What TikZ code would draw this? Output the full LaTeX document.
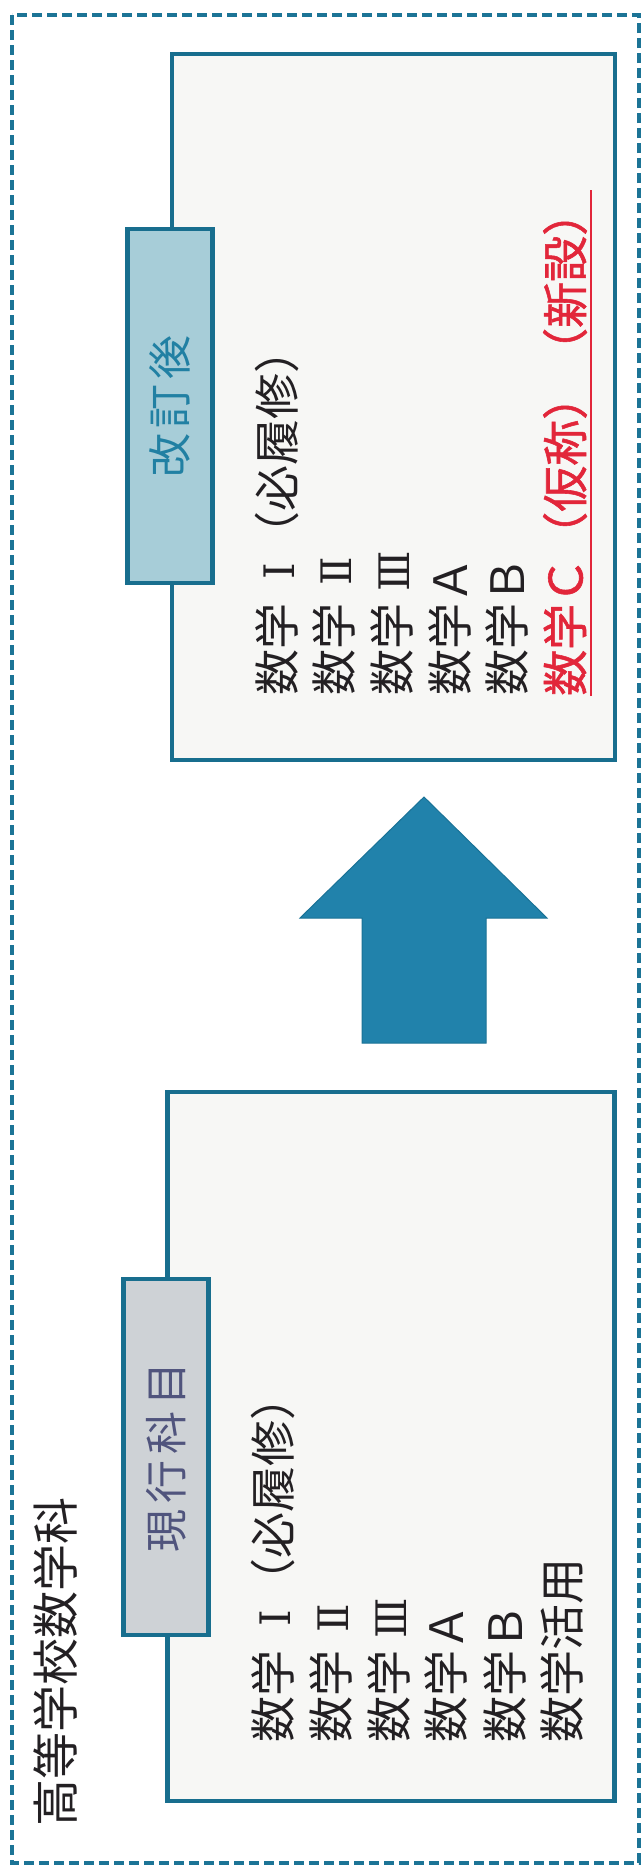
\documentclass[tikz,border=0pt]{standalone}
\usepackage{fontspec}
\setmainfont{Noto Sans CJK JP}
\newfontfamily\jpbold[FakeBold=1.2]{Noto Sans CJK JP}
\newfontfamily\romnum{DejaVu Serif}
\newcommand{\rnum}[1]{\kern10pt\makebox[1em]{\romnum\fontsize{42}{42}\selectfont #1}\kern-10pt}
\definecolor{tealline}{RGB}{24,110,142}
\definecolor{dashcol}{RGB}{28,116,150}
\definecolor{arrowfill}{RGB}{33,130,171}
\definecolor{arrowline}{RGB}{26,114,150}
\definecolor{boxfill}{RGB}{247,247,245}
\definecolor{labelnew}{RGB}{167,205,216}
\definecolor{labelold}{RGB}{206,210,214}
\definecolor{textnew}{RGB}{33,128,163}
\definecolor{textold}{RGB}{80,84,125}
\definecolor{ink}{RGB}{35,32,35}
\definecolor{redtext}{RGB}{226,38,58}
\begin{document}
\begin{tikzpicture}[x=1pt,y=-1pt,
  box/.style={draw=tealline, line width=4.5pt, fill=boxfill, inner sep=0pt},
  tagbox/.style={draw=tealline, line width=4.5pt, inner sep=0pt, rotate=90,
    minimum height=85pt},
  rowtext/.style={rotate=90, anchor=west, inner sep=0pt,
    font=\fontsize{46}{46}\selectfont, text height=40.5pt, text depth=5.5pt, text=ink},
  titletext/.style={rotate=90, anchor=west, inner sep=0pt,
    font=\fontsize{47}{47}\selectfont, text height=41.4pt, text depth=5.6pt, text=ink},
]
\useasboundingbox (0,0) rectangle (641,1866);
\fill[white] (0,0) rectangle (641,1866);
% outer dashed frame
\draw[dashcol, line width=3.8pt, dash pattern=on 10pt off 5pt] (12,15) rectangle (639,1863);

% boxes
\node (newbox) [box, minimum width=443pt, minimum height=706pt] at (393.5,407) {};
\node (oldbox) [box, minimum width=447pt, minimum height=709pt] at (391,1446.5) {};

% labels
\node (newtag) [tagbox, fill=labelnew, text=textnew, minimum width=354pt,
  font=\fontsize{44}{44}\selectfont] at (170,406)
  {改\kern5pt 訂\kern5pt 後};
\node (oldtag) [tagbox, fill=labelold, text=textold, minimum width=356pt,
  font=\fontsize{43}{43}\selectfont] at (166,1457)
  {現\kern6pt 行\kern6pt 科\kern6pt 目};

% title
\node (title) [titletext] at (56,1827) {高等学校数学科};

% after revision rows
\node (n1) [rowtext] at (277,696) {数学\rnum{Ⅰ}（必履修）};
\node (n2) [rowtext] at (334,696) {数学\rnum{Ⅱ}};
\node (n3) [rowtext] at (392,696) {数学\rnum{Ⅲ}};
\node (n4) [rowtext] at (450,696) {数学Ａ};
\node (n5) [rowtext] at (507,696) {数学Ｂ};
\node (n6) [rowtext, text=redtext, font=\jpbold\fontsize{46}{46}\selectfont] at (565,696) {数学Ｃ（仮称）（新設）};
\draw[redtext, line width=1.8pt] ([xshift=3pt]n6.south west) -- ([xshift=3pt]n6.south east);

% current rows
\node (o1) [rowtext] at (273,1743) {数学\rnum{Ⅰ}（必履修）};
\node (o2) [rowtext] at (331,1743) {数学\rnum{Ⅱ}};
\node (o3) [rowtext] at (389,1743) {数学\rnum{Ⅲ}};
\node (o4) [rowtext] at (446,1743) {数学Ａ};
\node (o5) [rowtext] at (505,1743) {数学Ｂ};
\node (o6) [rowtext] at (562,1743) {数学活用};

% block arrow
\draw[arrowline, fill=arrowfill, line width=1pt, line join=miter]
  (424,797) -- (547,918) -- (486,918) -- (486,1043) -- (362,1043) -- (362,918) -- (300,918) -- cycle;
\end{tikzpicture}
\end{document}
